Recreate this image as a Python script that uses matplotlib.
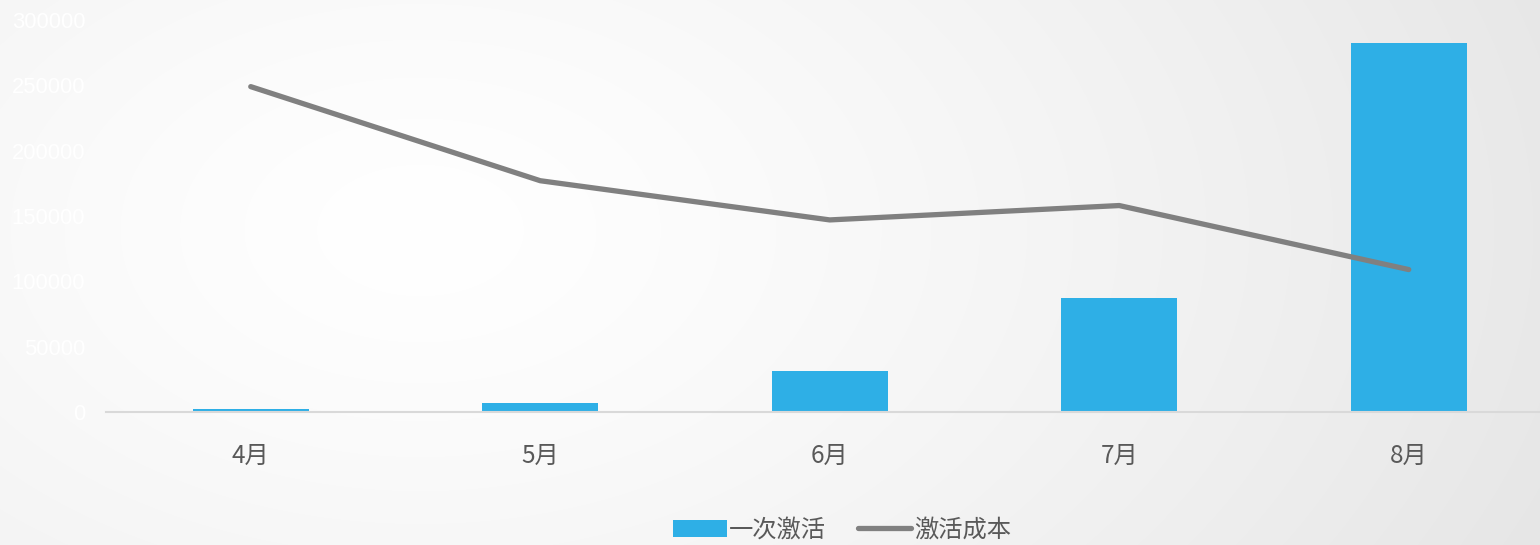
import numpy as np
import matplotlib
matplotlib.use("Agg")
import matplotlib.pyplot as plt
from matplotlib.patches import Patch
from matplotlib.lines import Line2D

plt.rcParams['font.family'] = ['Noto Sans CJK SC', 'DejaVu Sans']

months = ['4月', '5月', '6月', '7月', '8月']
activations = [2300, 6900, 31400, 87200, 282400]
cost = [24.9, 17.7, 14.7, 15.8, 10.9]
yticks = [0, 50000, 100000, 150000, 200000, 250000, 300000]

W, H = 1540, 545
fig = plt.figure(figsize=(W / 100, H / 100), dpi=100)

# radial gradient background
bg = fig.add_axes([0, 0, 1, 1])
yy, xx = np.mgrid[0:H, 0:W]
d = np.sqrt(((xx - 420) / 1100.0) ** 2 + ((yy - 230) / 700.0) ** 2)
val = 1.0 - 0.085 * np.clip(d, 0, 1.3) ** 1.3
img = np.dstack([val, val, val])
bg.imshow(img, aspect='auto', extent=[0, 1, 0, 1], origin='upper')
bg.axis('off')

left_px, right_px = 106, 1540
step = 289.5
ax = fig.add_axes([left_px / W, (H - 412) / H, (right_px - left_px) / W, 392 / H])
ax.patch.set_alpha(0)
x = np.arange(len(months))
ax.bar(x, activations, width=0.4, color='#2EAFE6', zorder=2)
ax.set_xlim(-0.5, (right_px - left_px) / step - 0.5)
ax.set_ylim(0, 300000)
ax.set_yticks(yticks)
ax.set_yticklabels([str(v) for v in yticks], color='white', fontsize=15.8,
                   family=['Liberation Sans', 'DejaVu Sans'])
ax.set_xticks(x)
ax.set_xticklabels(months, color='#595959', fontsize=17.5)
ax.tick_params(axis='y', length=0, pad=15)
ax.tick_params(axis='x', length=0, pad=22)
for s in ['top', 'right', 'left']:
    ax.spines[s].set_visible(False)
ax.spines['bottom'].set_color('#D9D9D9')
ax.spines['bottom'].set_linewidth(1.5)

ax2 = ax.twinx()
ax2.plot(x, cost, color='#808080', linewidth=3.8, solid_capstyle='round', zorder=3)
ax2.set_ylim(0, 30)
ax2.set_yticks([])
for s in ax2.spines.values():
    s.set_visible(False)

handles = [Patch(facecolor='#2EAFE6', edgecolor='none'),
           Line2D([0], [0], color='#808080', linewidth=3.8, solid_capstyle='round')]
fig.legend(handles, ['一次激活', '激活成本'], loc='center',
           bbox_to_anchor=(842 / W, 1 - 530 / H), ncol=2, frameon=False,
           fontsize=17.5, labelcolor='#595959', handlelength=2.2, handleheight=0.7,
           handletextpad=0.1, columnspacing=1.3)

fig.savefig('out.png', dpi=100)
